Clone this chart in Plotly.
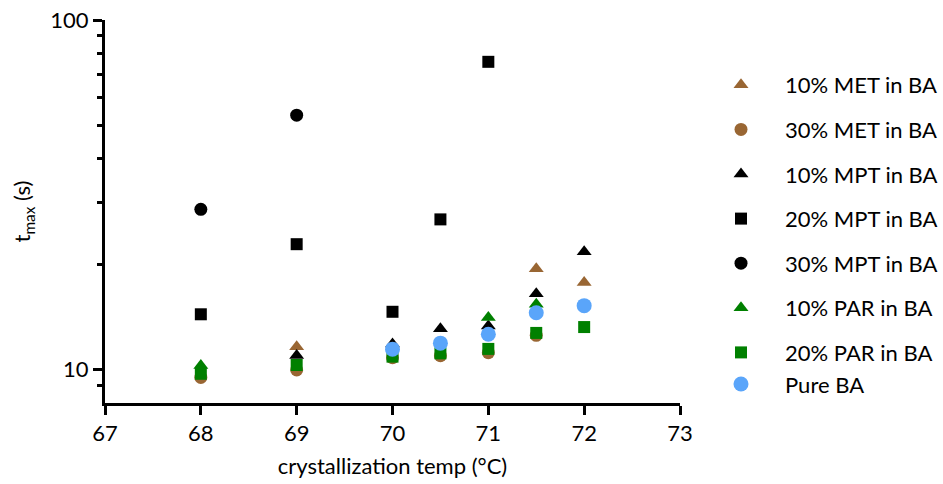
import math
import plotly.graph_objects as go

# ---- data ----
met10_x = [69, 71.5, 72]
met10_y = [11.6, 19.4, 17.7]

met30_x = [68, 69, 70, 70.5, 71, 71.5]
met30_y = [9.47, 9.95, 10.79, 10.93, 11.15, 12.5]

mpt10_x = [69, 70, 70.5, 71, 71.5, 72]
mpt10_y = [10.95, 11.8, 13.05, 13.3, 16.45, 21.7]

mpt20_x = [68, 69, 70, 70.5, 71]
mpt20_y = [14.36, 22.8, 14.6, 26.85, 75.9]

mpt30_x = [68, 69]
mpt30_y = [28.7, 53.4]

par10_x = [68, 71, 71.5]
par10_y = [10.25, 14.05, 15.35]

par20_x = [68, 69, 70, 70.5, 71, 71.5, 72]
par20_y = [9.7, 10.28, 10.86, 11.1, 11.43, 12.7, 13.2]

ba_x = [70, 70.5, 71, 71.5, 72]
ba_y = [11.41, 11.87, 12.59, 14.5, 15.2]

x_ticks = [67, 68, 69, 70, 71, 72, 73]
y_major = [10, 100]
y_minor = [9, 20, 30, 40, 50, 60, 70, 80, 90]

BROWN = "#996633"
GREEN = "#008000"
BLUE = "#5AA5FA"
BLACK = "#000000"
FONT = "Lato"
FS = 22

series = [
    ("10% MET in BA", met10_x, met10_y, "triangle-up", BROWN, 13, "g0"),
    ("30% MET in BA", met30_x, met30_y, "circle", BROWN, 13, "g1"),
    ("10% MPT in BA", mpt10_x, mpt10_y, "triangle-up", BLACK, 13, "g2"),
    ("20% MPT in BA", mpt20_x, mpt20_y, "square", BLACK, 12, "g3"),
    ("30% MPT in BA", mpt30_x, mpt30_y, "circle", BLACK, 13, "g4"),
    ("10% PAR in BA", par10_x, par10_y, "triangle-up", GREEN, 13, "g5"),
    ("20% PAR in BA", par20_x, par20_y, "square", GREEN, 12, "g6"),
    ("Pure BA", ba_x, ba_y, "circle", BLUE, 15, "g6"),
]

fig = go.Figure()
for name, xs, ys, sym, col, sz, grp in series:
    fig.add_trace(go.Scatter(
        x=xs, y=ys, mode="markers", name=name, legendgroup=grp,
        marker=dict(symbol=sym, color=col, size=sz, line=dict(width=0)),
    ))

axis_common = dict(
    showline=True, linewidth=3, linecolor="black",
    ticks="outside", tickwidth=3, tickcolor="black",
    showgrid=False, zeroline=False,
    tickfont=dict(family=FONT, size=FS, color="black"),
)

fig.update_xaxes(
    range=[67, 73], tickmode="array", tickvals=x_ticks,
    ticktext=[str(v) for v in x_ticks], ticklen=9,
    title=dict(text="crystallization temp (°C)", standoff=14,
               font=dict(family=FONT, size=FS, color="black")),
    **axis_common,
)
fig.update_yaxes(
    type="log", range=[math.log10(8), 2], tickmode="array",
    tickvals=y_major, ticktext=[str(v) for v in y_major], ticklen=9,
    minor=dict(tickmode="array", tickvals=y_minor, ticks="outside",
               ticklen=5, tickwidth=3, tickcolor="black", showgrid=False),
    title=dict(text="t<sub>max</sub> (s)", standoff=14,
               font=dict(family=FONT, size=FS, color="black")),
    **axis_common,
)

fig.update_layout(
    width=943, height=484,
    margin=dict(l=105, r=263, t=20, b=81, autoexpand=False),
    plot_bgcolor="white", paper_bgcolor="white",
    font=dict(family=FONT, size=FS, color="black"),
    showlegend=True,
    legend=dict(
        x=(697 - 105) / 575, xanchor="left", y=1 - (64 - 20) / 383,
        yanchor="top", itemwidth=78, tracegroupgap=13,
        font=dict(family=FONT, size=FS, color="black"),
        bgcolor="rgba(0,0,0,0)", borderwidth=0,
    ),
)

fig.write_html("out.html")
